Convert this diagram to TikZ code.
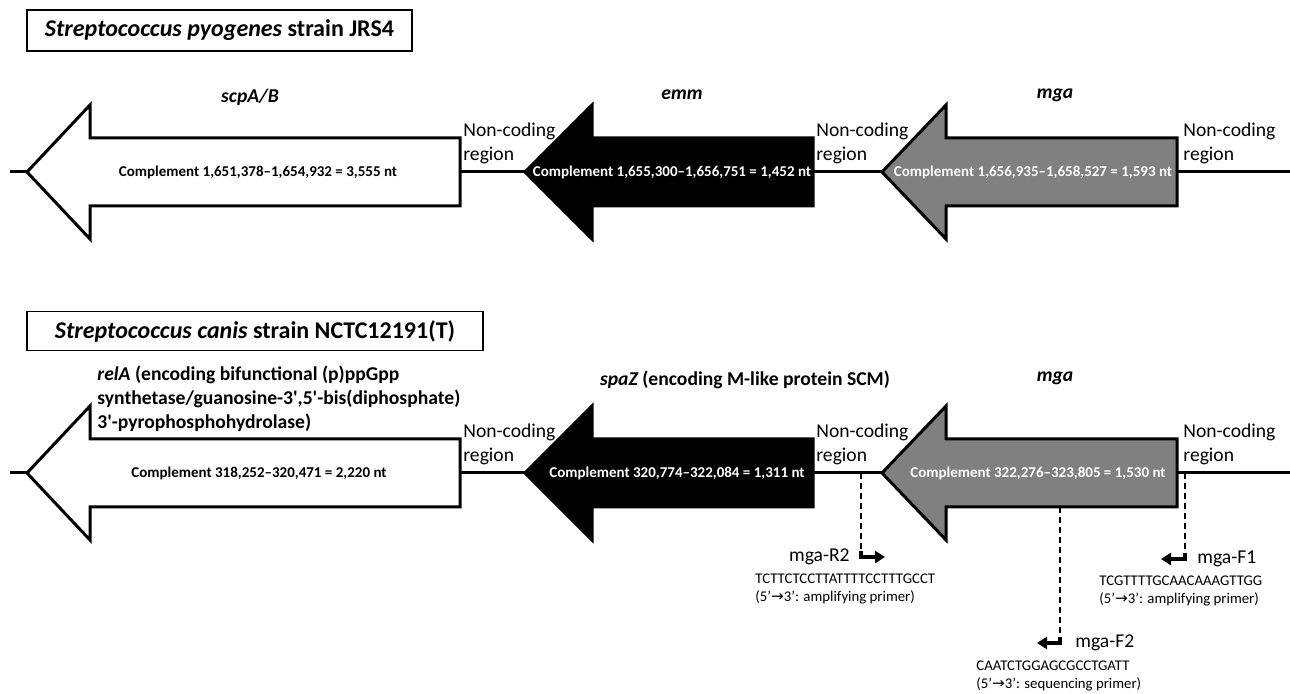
\documentclass[tikz,border=0pt]{standalone}
\usepackage{fontspec}
\setmainfont{Carlito}
\newfontfamily\dejavu{DejaVu Sans}
\usetikzlibrary{arrows.meta}
\newcommand\genearrow[5]{% tipx, backx, rightx, y, fill
  \fill[#5] (#1,#4) -- (#2,#4-67) -- (#2,#4-34) -- (#3,#4-34) -- (#3,#4+34) -- (#2,#4+34) -- (#2,#4+67) -- cycle;
  \draw[gene] (#1,#4) -- (#2,#4-67) -- (#2,#4-34) -- (#3,#4-34) -- (#3,#4+34) -- (#2,#4+34) -- (#2,#4+67) -- cycle;}
\newcommand\rarr{{\dejavu\fontsize{7.6}{9}\selectfont →}}
\newcommand\sq{\textquotesingle}
\begin{document}
\begin{tikzpicture}[x=0.5pt,y=-0.5pt,
  dna/.style={line width=1.5pt},
  gene/.style={draw=black,line width=1.5pt,line join=miter},
  cmpl/.style={font=\fontsize{7.5}{8}\selectfont\bfseries,inner sep=0pt},
  glabel/.style={font=\fontsize{9.8}{12}\selectfont\bfseries,inner sep=0pt},
  ncr/.style={font=\fontsize{9.8}{12}\selectfont,align=left,anchor=west,inner sep=0pt},
  titlebox/.style={draw,line width=0.6pt,font=\fontsize{12}{13}\selectfont\bfseries,inner sep=0pt},
  primer/.style={font=\fontsize{9.8}{11}\selectfont,inner sep=0pt},
  seq/.style={font=\fontsize{7.4}{9}\selectfont,align=left,anchor=west,inner sep=0pt},
  guide/.style={line width=0.75pt,dash pattern=on 3pt off 2pt},
  parrow/.style={line width=1.8pt,-{Triangle[length=5pt,width=6pt]}}
]
\useasboundingbox (0,0) rectangle (1290,694);

% ---------- top row ----------
\node[titlebox,minimum width=192.5pt,minimum height=20.5pt] (t1) at (219.5,30.5)
  {\itshape Streptococcus pyogenes\upshape{} strain JRS4};
\coordinate (l1a) at (10,172);
\coordinate (l1b) at (1290,172);
\draw[dna] (l1a) -- (l1b);
\genearrow{27}{90}{460}{172}{white}
\genearrow{525}{592}{813}{172}{black}
\genearrow{882}{946}{1177}{172}{black!50}
\node[cmpl] (c1) at (258,172) {Complement 1,651,378–1,654,932 = 3,555 nt};
\node[cmpl,text=white] (c2) at (672,172) {Complement 1,655,300–1,656,751 = 1,452 nt};
\node[cmpl,text=white] (c3) at (1033,172) {Complement 1,656,935–1,658,527 = 1,593 nt};
\node[glabel] (g1) at (250,97) {\itshape scpA/B};
\node[glabel] (g2) at (682,95) {\itshape emm};
\node[glabel] (g3) at (1055,95) {\itshape mga};
\node[ncr] (n1) at (463,143) {Non-coding\\region};
\node[ncr] (n2) at (816,143) {Non-coding\\region};
\node[ncr] (n3) at (1183,143) {Non-coding\\region};

% ---------- bottom row ----------
\node[titlebox,minimum width=228pt,minimum height=19.5pt] (t2) at (255,331)
  {\itshape Streptococcus canis\upshape{} strain NCTC12191(T)};
\coordinate (l2a) at (10,473);
\coordinate (l2b) at (1290,473);
\draw[dna] (l2a) -- (l2b);
\genearrow{27}{90}{460}{473}{white}
\genearrow{525}{592}{813}{473}{black}
\genearrow{882}{946}{1177}{473}{black!50}
\node[cmpl] (c4) at (259,473) {Complement 318,252–320,471 = 2,220 nt};
\node[cmpl,text=white] (c5) at (677,473) {Complement 320,774–322,084 = 1,311 nt};
\node[cmpl,text=white] (c6) at (1038,473) {Complement 322,276–323,805 = 1,530 nt};
\node[glabel,align=left,anchor=west] (g4) at (97,399)
  {{\itshape relA} (encoding bifunctional (p)ppGpp\\synthetase/guanosine-3\sq,5\sq-bis(diphosphate)\\3\sq-pyrophosphohydrolase)};
\node[glabel] (g5) at (745,380) {{\itshape spaZ} (encoding M-like protein SCM)};
\node[glabel] (g6) at (1055,378) {\itshape mga};
\node[ncr] (n4) at (463,444) {Non-coding\\region};
\node[ncr] (n5) at (816,444) {Non-coding\\region};
\node[ncr] (n6) at (1183,444) {Non-coding\\region};

% ---------- primers ----------
\coordinate (d1) at (861,473);
\coordinate (d1e) at (861,551);
\coordinate (a1s) at (861,557);
\coordinate (a1e) at (885,557);
\draw[guide] (d1) -- (d1e);
\draw[parrow] (d1e) -- (a1s) -- (a1e);
\node[primer,anchor=east] (p1) at (850,557) {mga-R2};
\node[seq] (s1) at (755,589) {TCTTCTCCTTATTTTCCTTTGCCT\\(5’\rarr3’: amplifying primer)};

\coordinate (d2) at (1185,473);
\coordinate (d2e) at (1185,553);
\coordinate (a2s) at (1185,559);
\coordinate (a2e) at (1161,559);
\draw[guide] (d2) -- (d2e);
\draw[parrow] (d2e) -- (a2s) -- (a2e);
\node[primer,anchor=west] (p2) at (1197,559) {mga-F1};
\node[seq] (s2) at (1099,591) {TCGTTTTGCAACAAAGTTGG\\(5’\rarr3’: amplifying primer)};

\coordinate (d3) at (1060,507);
\coordinate (d3e) at (1060,637);
\coordinate (a3s) at (1060,643);
\coordinate (a3e) at (1037,643);
\draw[guide] (d3) -- (d3e);
\draw[parrow] (d3e) -- (a3s) -- (a3e);
\node[primer,anchor=west] (p3) at (1075,643) {mga-F2};
\node[seq] (s3) at (976,676) {CAATCTGGAGCGCCTGATT\\(5’\rarr3’: sequencing primer)};
\end{tikzpicture}
\end{document}
